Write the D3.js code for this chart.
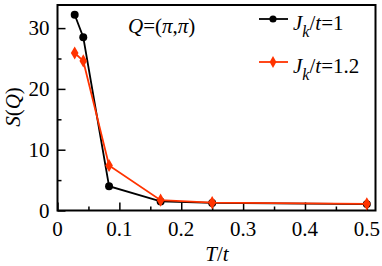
<!DOCTYPE html>
<html>
<head>
<meta charset="utf-8">
<script src="https://cdn.jsdelivr.net/npm/d3@7"></script>
</head>
<body style="margin:0;background:#fff">
<script>
// data
var temps = [1/36, 1/24, 1/12, 1/6, 0.25, 0.5];        // T/t
var sq_jk1 = [32.2, 28.5, 4.0, 1.5, 1.25, 1.05];      // J_k/t=1
var sq_jk12 = [25.9, 24.6, 7.4, 1.7, 1.3, 1.1];       // J_k/t=1.2
var xTicks = [0, 0.1, 0.2, 0.3, 0.4, 0.5];
var yTicks = [0, 10, 20, 30];

var width = 382, height = 266;
var m = {left: 57.5, top: 5, right: 375.5, bottom: 210.5};
var red = "#ff3300";
var fontName = "'Liberation Serif'";
var fs = 21;

var svg = d3.select("body").append("svg")
    .attr("width", width)
    .attr("height", height);

var x = d3.scaleLinear().domain([0, 0.514]).range([m.left, m.right]);
var y = d3.scaleLinear().domain([0, 33.8]).range([m.bottom, m.top]);

// ticks from d3 axes (labels drawn separately below)
var xAxisMinor = d3.axisBottom(x).tickValues(d3.range(0.05, 0.5, 0.1)).tickSize(-4).tickFormat("");
var yAxisMinor = d3.axisLeft(y).tickValues([5, 15, 25]).tickSize(-4).tickFormat("");
var xAxis = d3.axisBottom(x).tickValues(xTicks).tickSize(-8).tickFormat("");
var yAxis = d3.axisLeft(y).tickValues(yTicks).tickSize(-8).tickFormat("");
svg.append("g").attr("transform", "translate(0," + m.bottom + ")").call(xAxisMinor);
svg.append("g").attr("transform", "translate(" + m.left + ",0)").call(yAxisMinor);
svg.append("g").attr("transform", "translate(0," + m.bottom + ")").call(xAxis);
svg.append("g").attr("transform", "translate(" + m.left + ",0)").call(yAxis);
svg.selectAll(".domain").remove();
svg.selectAll(".tick text").remove();
svg.selectAll(".tick line").attr("stroke", "#000").attr("stroke-width", 1.5);

// tick labels
svg.selectAll(null).data(xTicks).enter().append("text")
    .attr("x", function(d){ return x(d); })
    .attr("y", m.bottom + 25)
    .attr("text-anchor", "middle")
    .attr("font-family", fontName).attr("font-size", fs)
    .text(function(d){ return d === 0 ? "0" : d3.format(".1f")(d); });
svg.selectAll(null).data(yTicks).enter().append("text")
    .attr("x", m.left - 8)
    .attr("y", function(d){ return y(d) + 7; })
    .attr("text-anchor", "end")
    .attr("font-family", fontName).attr("font-size", fs)
    .text(function(d){ return d; });

// frame
svg.append("rect")
    .attr("x", m.left).attr("y", m.top)
    .attr("width", m.right - m.left).attr("height", m.bottom - m.top)
    .attr("fill", "none").attr("stroke", "#000").attr("stroke-width", 2);

var line = d3.line()
    .x(function(d, i){ return x(temps[i]); })
    .y(function(d){ return y(d); });

var series = [
  {vals: sq_jk1, color: "#000", sym: d3.symbolCircle, size: 50},
  {vals: sq_jk12, color: red, sym: d3.symbolDiamond, size: 50}
];

series.forEach(function(s){
  svg.append("path").datum(s.vals)
    .attr("d", line)
    .attr("fill", "none")
    .attr("stroke", s.color)
    .attr("stroke-width", 1.8);
  svg.selectAll(null).data(s.vals).enter().append("path")
    .attr("d", d3.symbol().type(s.sym).size(s.size))
    .attr("transform", function(d, i){ return "translate(" + x(temps[i]) + "," + y(d) + ")"; })
    .attr("fill", s.color);
});

// legend
var legend = [
  {color: "#000", sym: d3.symbolCircle, size: 40, y: 19, txt: "1"},
  {color: red, sym: d3.symbolDiamond, size: 40, y: 62, txt: "1.2"}
];
legend.forEach(function(l){
  svg.append("line")
    .attr("x1", 259).attr("x2", 288).attr("y1", l.y).attr("y2", l.y)
    .attr("stroke", l.color).attr("stroke-width", 1.8);
  svg.append("path")
    .attr("d", d3.symbol().type(l.sym).size(l.size))
    .attr("transform", "translate(273," + l.y + ")")
    .attr("fill", l.color);
  var t = svg.append("text").attr("x", 293).attr("y", l.y + 11)
      .attr("font-family", fontName).attr("font-size", fs);
  t.append("tspan").attr("font-style", "italic").text("J");
  t.append("tspan").attr("font-style", "italic").attr("font-size", 16).attr("dy", 7).text("k");
  t.append("tspan").attr("dy", -7).text("/");
  t.append("tspan").attr("font-style", "italic").text("t");
  t.append("tspan").text("=" + l.txt);
});

// annotation Q=(π,π)
var q = svg.append("text").attr("x", 128).attr("y", 33)
    .attr("font-family", fontName).attr("font-size", fs);
[["Q", true], ["=(", false], ["π", true], [",", false], ["π", true], [")", false]].forEach(function(p){
  q.append("tspan").attr("font-style", p[1] ? "italic" : "normal").text(p[0]);
});

// axis labels
var xl = svg.append("text").attr("x", 217).attr("y", 261).attr("text-anchor", "middle")
    .attr("font-family", fontName).attr("font-size", fs);
[["T", true], ["/", false], ["t", true]].forEach(function(p){
  xl.append("tspan").attr("font-style", p[1] ? "italic" : "normal").text(p[0]);
});

var yl = svg.append("text").attr("transform", "translate(20,107) rotate(-90)")
    .attr("text-anchor", "middle").attr("font-family", fontName).attr("font-size", fs);
[["S", true], ["(", false], ["Q", true], [")", false]].forEach(function(p){
  yl.append("tspan").attr("font-style", p[1] ? "italic" : "normal").text(p[0]);
});
</script>
</body>
</html>
